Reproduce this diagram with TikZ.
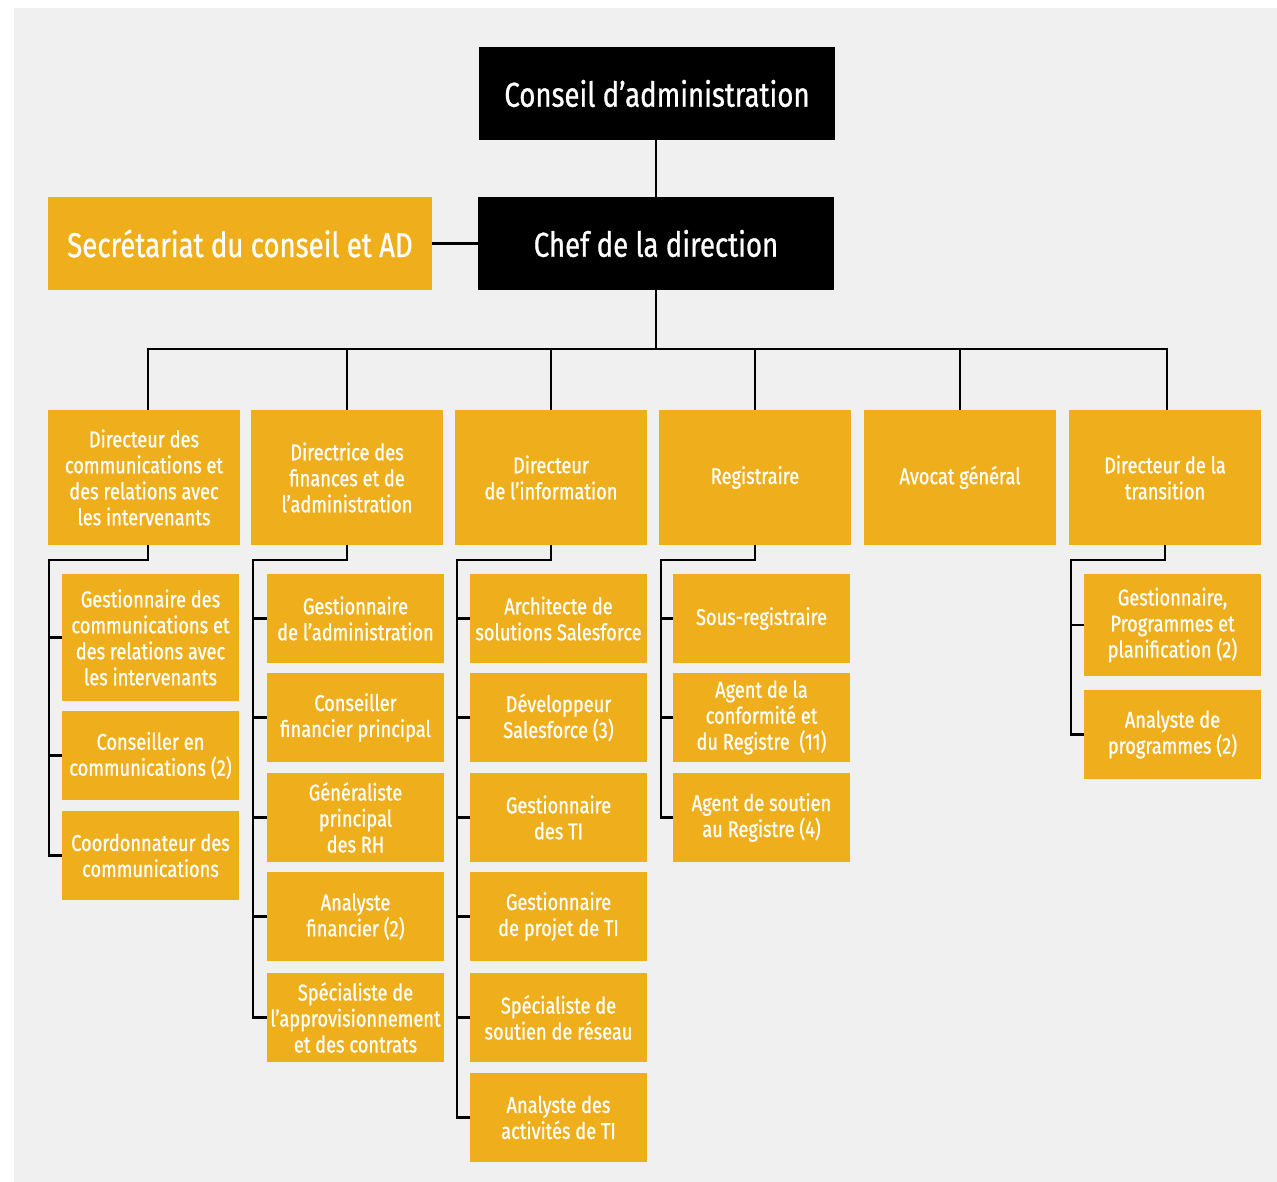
\documentclass[tikz,border=0pt]{standalone}
\usepackage{fontspec}
\setmainfont[FakeStretch=0.8,FakeBold=0.8]{Fira Sans}
\definecolor{org}{HTML}{EFAF1C}
\definecolor{bgc}{HTML}{F0F0F0}
\newcommand\orgbox[7][box]{\node[#1,minimum width={#5pt-#3pt},minimum height={#6pt-#4pt}] (#2) at ({(#3+#5)/2},{(#4+#6)/2}) {#7};}
\begin{document}
\begin{tikzpicture}[x=1pt,y=-1pt,
  box/.style={fill=org,text=white,inner sep=0pt,align=center,font=\fontsize{22.8}{26}\selectfont},
  bigorg/.style={fill=org,text=white,inner sep=0pt,align=center,font=\fontsize{34.5}{40}\selectfont},
  bigblk/.style={fill=black,text=white,inner sep=0pt,align=center,font=\fontsize{34.5}{40}\selectfont},
  link/.style={line width=2.2pt,black}]
\useasboundingbox (0,0) rectangle (1277,1182);
\fill[bgc] (14,8) rectangle (1277,1182);
% top
\orgbox[bigblk]{conseil}{479}{47}{835}{140}{Conseil d’administration}
\orgbox[bigblk]{chef}{478}{197}{834}{290}{Chef de la direction}
\orgbox[bigorg]{secr}{48}{197}{432}{290}{Secrétariat du conseil et AD}
% level 2
\orgbox{d1}{48}{410}{240}{545}{Directeur des\\communications et\\des relations avec\\les intervenants}
\orgbox{d2}{251}{410}{443}{545}{Directrice des\\finances et de\\l’administration}
\orgbox{d3}{455}{410}{647}{545}{Directeur\\de l’information}
\orgbox{d4}{659}{410}{851}{545}{Registraire}
\orgbox{d5}{864}{410}{1056}{545}{Avocat général}
\orgbox{d6}{1069}{410}{1261}{545}{Directeur de la\\transition}
% column 1
\orgbox{c1a}{62}{574}{239}{701}{Gestionnaire des\\communications et\\des relations avec\\les intervenants}
\orgbox{c1b}{62}{711}{239}{800}{Conseiller en\\communications (2)}
\orgbox{c1c}{62}{811}{239}{900}{Coordonnateur des\\communications}
% column 2
\orgbox{c2a}{267}{574}{444}{663}{Gestionnaire\\de l’administration}
\orgbox{c2b}{267}{673}{444}{762}{Conseiller\\financier principal}
\orgbox{c2c}{267}{773}{444}{862}{Généraliste\\principal\\des RH}
\orgbox{c2d}{267}{872}{444}{961}{Analyste\\financier (2)}
\orgbox{c2e}{267}{973}{444}{1062}{Spécialiste de\\l’approvisionnement\\et des contrats}
% column 3
\orgbox{c3a}{470}{574}{647}{663}{Architecte de\\solutions Salesforce}
\orgbox{c3b}{470}{673}{647}{762}{Développeur\\Salesforce (3)}
\orgbox{c3c}{470}{773}{647}{862}{Gestionnaire\\des TI}
\orgbox{c3d}{470}{872}{647}{961}{Gestionnaire\\de projet de TI}
\orgbox{c3e}{470}{973}{647}{1062}{Spécialiste de\\soutien de réseau}
\orgbox{c3f}{470}{1073}{647}{1162}{Analyste des\\activités de TI}
% column 4
\orgbox{c4a}{673}{574}{850}{663}{Sous-registraire}
\orgbox{c4b}{673}{673}{850}{762}{Agent de la\\conformité et\\du Registre~~(11)}
\orgbox{c4c}{673}{773}{850}{862}{Agent de soutien\\au Registre (4)}
% column 6
\orgbox{c6a}{1084}{574}{1261}{676}{Gestionnaire,\\Programmes et\\planification (2)}
\orgbox{c6b}{1084}{690}{1261}{779}{Analyste de\\programmes (2)}
% connectors top
\draw[link] (chef.north) -- (chef.north |- conseil.south);
\draw[link] (secr.east) -- (secr.east -| chef.west);
\coordinate (bus) at (0,349);
\coordinate (d1top) at ([xshift=4pt]d1.north);
\coordinate (d1bot) at ([xshift=4pt]d1.south);
\draw[link] (chef.south) -- (chef.south |- bus);
\draw[link] (d1top) |- ([xshift=2pt]d6.north |- bus) -- ([xshift=2pt]d6.north);
\foreach \d in {d2,d3,d4,d5} \draw[link] (\d.north) -- (\d.north |- bus);
% column connectors
\coordinate (k1) at (49,560);
\coordinate (k2) at (253,560);
\coordinate (k3) at (457,560);
\coordinate (k4) at (661,560);
\coordinate (k6) at (1071,560);
\draw[link] (d1bot) |- (k1) |- (c1c.west);
\foreach \c in {c1a,c1b} \draw[link] (k1 |- \c.west) -- (\c.west);
\draw[link] (d2.south) |- (k2) |- (c2e.west);
\foreach \c in {c2a,c2b,c2c,c2d} \draw[link] (k2 |- \c.west) -- (\c.west);
\draw[link] (d3.south) |- (k3) |- (c3f.west);
\foreach \c in {c3a,c3b,c3c,c3d,c3e} \draw[link] (k3 |- \c.west) -- (\c.west);
\draw[link] (d4.south) |- (k4) |- (c4c.west);
\foreach \c in {c4a,c4b} \draw[link] (k4 |- \c.west) -- (\c.west);
\draw[link] (d6.south) |- (k6) |- (c6b.west);
\draw[link] (k6 |- c6a.west) -- (c6a.west);
\end{tikzpicture}
\end{document}
